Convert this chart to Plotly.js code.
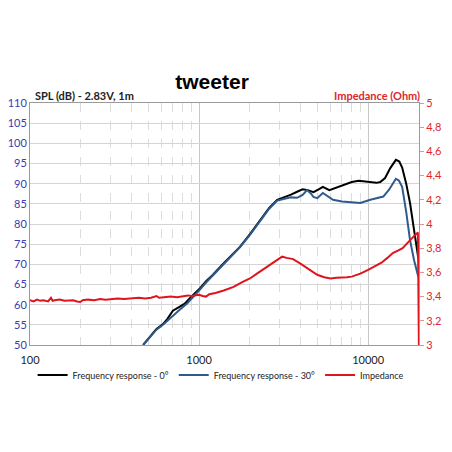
<!DOCTYPE html>
<html>
<head>
<meta charset="utf-8">
<script src="https://cdn.plot.ly/plotly-3.0.1.min.js"></script>
<style>html,body{margin:0;padding:0;background:#fff;}#chart{width:452px;height:452px;}</style>
</head>
<body>
<div id="chart"></div>
<script>
// Frequency response 0°
const freq0 = [467,520,560,612,650,700,760,820,900,1000,1100,1200,1400,1600,1750,2000,2300,2600,2900,3200,3500,3800,4100,4400,4750,5100,5400,5900,6500,7100,8000,8800,9500,10300,11200,11800,12600,13500,14600,15300,15900,16800,17700,18700,19800];
const spl0  = [50,52.5,54,55.2,56.5,58.5,59.3,60.2,62,63.8,65.8,67.3,70.3,72.8,74.4,77.5,81,84,86,86.6,87.3,88,88.6,88.4,87.9,88.6,89.2,88.4,89,89.7,90.4,90.7,90.5,90.4,90.2,90.4,91.4,93.8,95.9,95.5,94,90,85.2,78.5,71.6];
// Frequency response 30°
const freq30 = [467,520,560,612,660,720,780,850,920,1000,1100,1200,1400,1600,1750,2000,2300,2600,2900,3200,3500,3800,4100,4350,4600,4750,5000,5400,5800,6200,7000,7500,8500,9000,10300,11200,12300,13300,14600,15200,15900,16800,17700,18700,19800];
const spl30  = [50,52.3,53.8,55,56.3,57.8,59,60.3,61.8,63.5,65.5,67.2,70.2,72.7,74.3,77.3,80.8,83.8,85.8,86.3,86.6,86.5,87.2,88.4,87.5,86.7,86.4,87.7,86.8,86,85.6,85.5,85.4,85.2,86,86.3,86.8,88.5,91.2,90.8,89.2,83,76,71,67];
// Impedance
const freqZ = [100,105,110,115,120,128,133,136,140,150,160,170,180,190,198,205,220,240,260,280,300,330,360,400,440,480,520,560,580,620,680,740,800,860,900,950,1000,1050,1100,1150,1250,1400,1600,1800,2000,2200,2500,2800,3100,3300,3600,4000,4500,5000,5500,6000,6500,7000,7500,8000,9000,10000,11000,12000,13000,14000,15000,16000,17000,18000,19000,19700,20000];
const imp   = [3.37,3.36,3.375,3.365,3.37,3.36,3.39,3.365,3.37,3.375,3.365,3.37,3.37,3.36,3.355,3.37,3.375,3.37,3.38,3.375,3.38,3.385,3.38,3.385,3.39,3.385,3.39,3.405,3.39,3.395,3.4,3.395,3.405,3.41,3.405,3.41,3.415,3.405,3.4,3.42,3.43,3.45,3.48,3.52,3.55,3.59,3.64,3.69,3.73,3.72,3.71,3.67,3.62,3.58,3.56,3.55,3.555,3.555,3.56,3.565,3.59,3.62,3.65,3.68,3.72,3.76,3.78,3.8,3.84,3.88,3.91,3.93,2.9];

const xTickVals = [100,1000,10000];
const xTickText = ['100','1000','10000'];
const xMinorVals = [200,300,400,500,600,700,800,900,2000,3000,4000,5000,6000,7000,8000,9000];
const y2TickVals = [3,3.2,3.4,3.6,3.8,4,4.2,4.4,4.6,4.8,5];
const y2TickText = ['3','3,2','3,4','3,6','3,8','4','4,2','4,4','4,6','4,8','5'];

const FONT = 'Lato, "Liberation Sans", Arial, sans-serif';

const traces = [
  {x: freq0, y: spl0, name: 'Frequency response - 0°', type: 'scatter', mode: 'lines',
   line: {color: '#000000', width: 2}},
  {x: freq30, y: spl30, name: 'Frequency response - 30°', type: 'scatter', mode: 'lines',
   line: {color: '#2f5b8c', width: 2}},
  {x: freqZ, y: imp, name: 'Impedance', type: 'scatter', mode: 'lines', yaxis: 'y2',
   line: {color: '#e0141e', width: 2}}
];

const layout = {
  width: 452, height: 452,
  margin: {l: 30, r: 33, t: 103, b: 107},
  paper_bgcolor: '#ffffff', plot_bgcolor: '#ffffff',
  font: {family: FONT, size: 11, color: '#222'},
  showlegend: true,
  title: {text: '<b>tweeter</b>', font: {family: '"Liberation Sans", Arial, sans-serif', size: 21, color: '#000'},
          x: 0.468, xref: 'paper', xanchor: 'center', y: 1 - 82/452, yref: 'container', yanchor: 'middle'},
  xaxis: {type: 'log', range: [2, Math.log10(20000)], tickvals: xTickVals, ticktext: xTickText,
          showgrid: true, gridcolor: '#c8c8c8', gridwidth: 1, showline: true, linecolor: '#9a9a9a', linewidth: 1,
          mirror: true, ticks: '', ticklabelstandoff: 5, zeroline: false, tickfont: {size: 11, color: '#222'},
          minor: {tickvals: xMinorVals, showgrid: true, gridcolor: '#dcdcdc', griddash: 'dash', gridwidth: 1, ticks: ''}},
  yaxis: {range: [50, 110], dtick: 5, tick0: 50, showgrid: true, gridcolor: '#d4d4d4', gridwidth: 1,
          showline: true, linecolor: '#9a9a9a', linewidth: 1, ticks: '', zeroline: false,
          tickfont: {size: 11, color: '#3b3bb0'}},
  yaxis2: {overlaying: 'y', side: 'right', range: [3, 5], tickvals: y2TickVals, ticktext: y2TickText,
           showgrid: false, showline: true, linecolor: '#9a9a9a', linewidth: 1, ticks: 'outside', ticklen: 4,
           tickcolor: '#e89090', zeroline: false, tickfont: {size: 11, color: '#e0262b'}},
  legend: {orientation: 'h', x: 0.49, xanchor: 'center', y: -0.124, yanchor: 'middle',
           font: {size: 9, color: '#222'}, itemwidth: 30, tracegroupgap: 0, bgcolor: 'rgba(0,0,0,0)'},
  annotations: [
    {text: '<b>SPL (dB) - 2.83V, 1m</b>', xref: 'paper', yref: 'paper', x: 0.008, y: 1 + 8/242,
     xanchor: 'left', yanchor: 'middle', showarrow: false, font: {family: FONT, size: 11, color: '#222'}},
    {text: '<b>Impedance (Ohm)</b>', xref: 'paper', yref: 'paper', x: 1.008, y: 1 + 8/242,
     xanchor: 'right', yanchor: 'middle', showarrow: false, font: {family: FONT, size: 11, color: '#e0262b'}}
  ]
};

Plotly.newPlot('chart', traces, layout, {displayModeBar: false, staticPlot: true});
</script>
</body>
</html>
